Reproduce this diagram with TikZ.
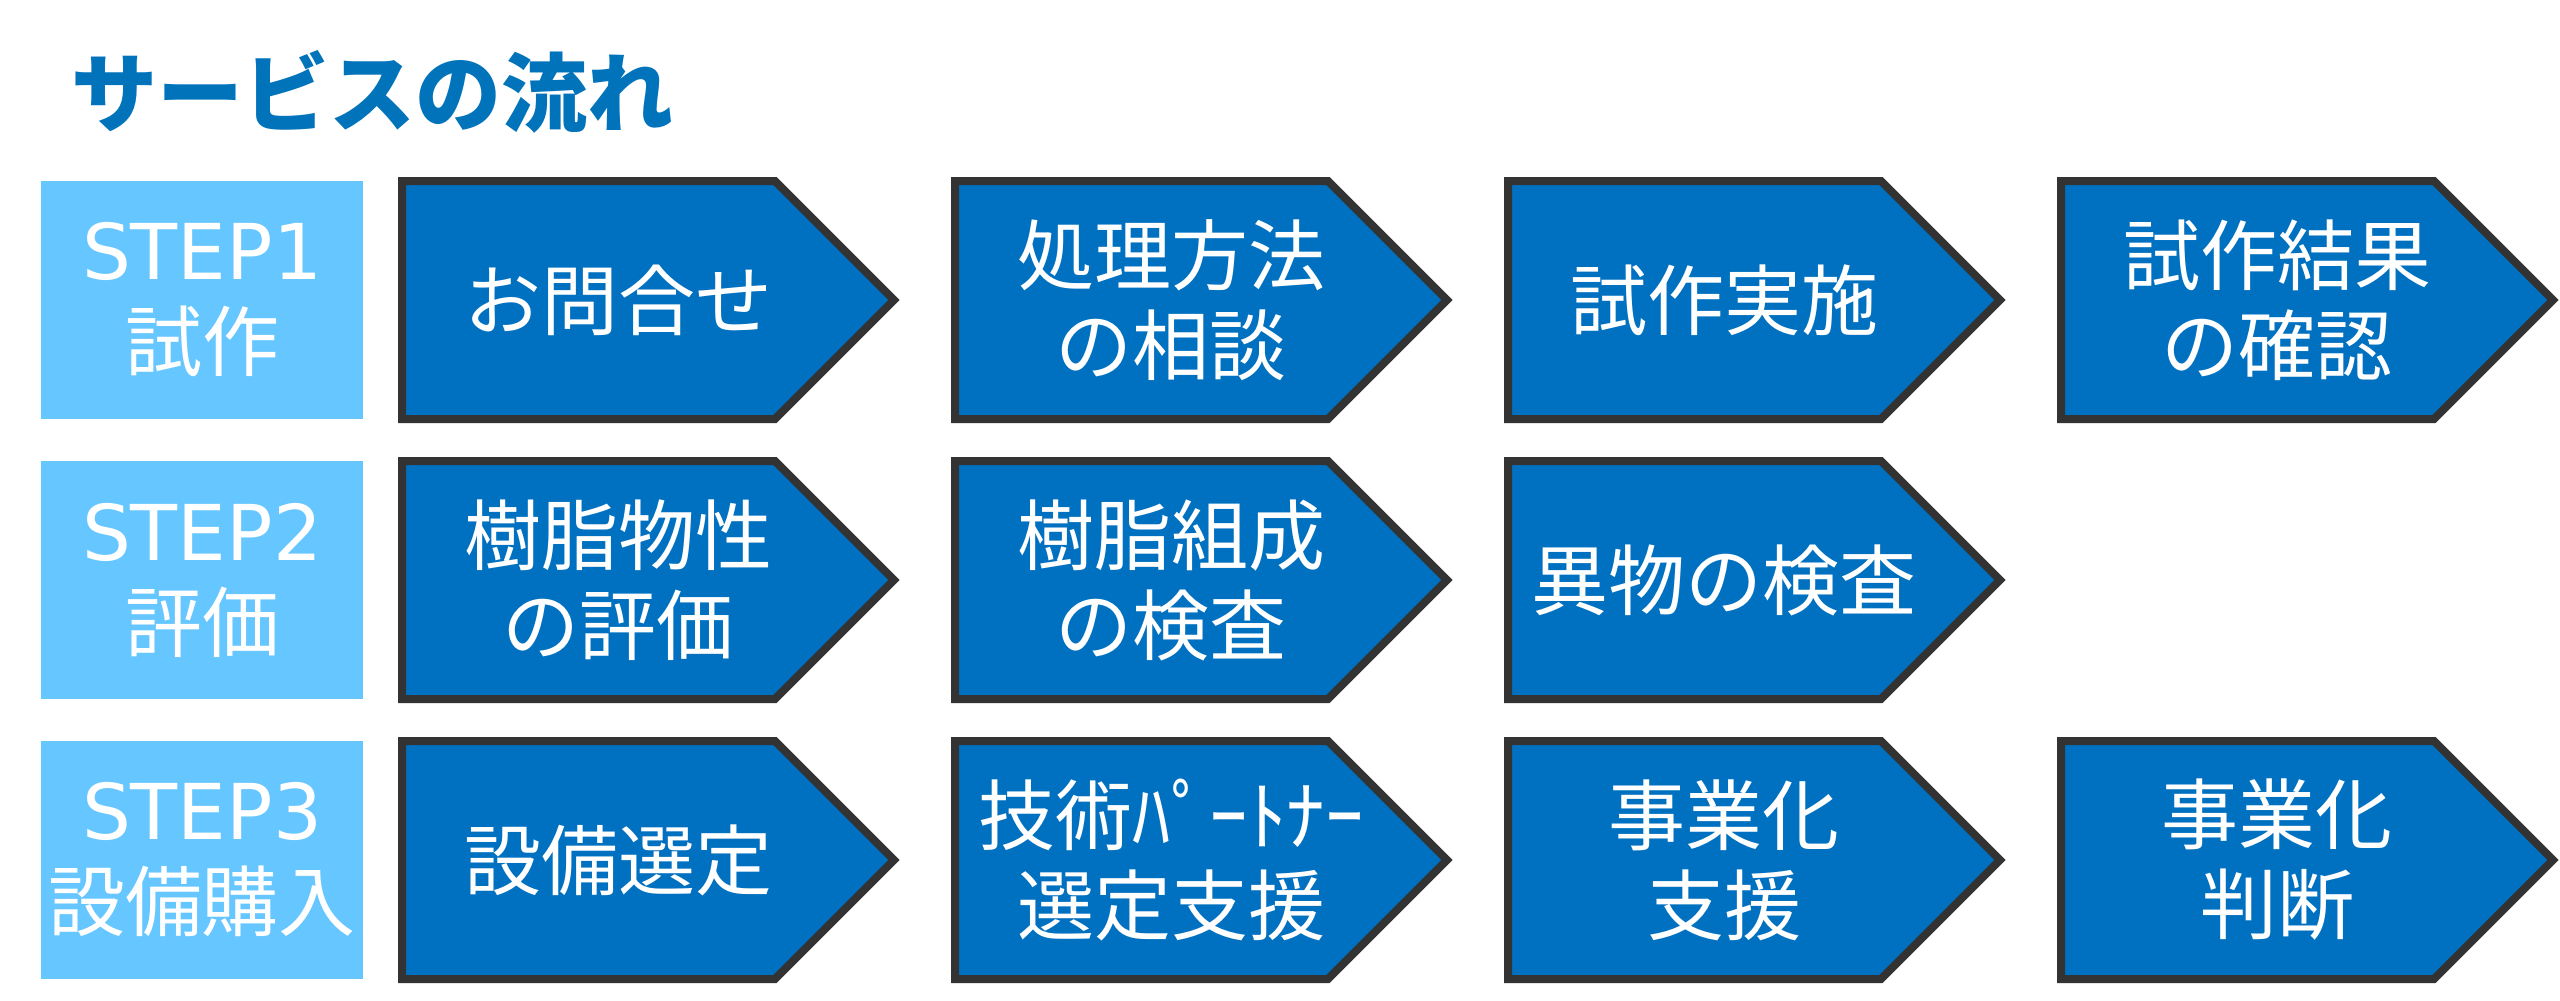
\documentclass[tikz,border=0pt]{standalone}
\usepackage{fontspec}
\newfontfamily\jpfont{Noto Sans CJK JP}
\newfontfamily\latfont{DejaVu Sans}
\usepackage{tikz}
\usetikzlibrary{calc}

\definecolor{flowblue}{HTML}{0070C0}
\definecolor{edgegray}{HTML}{333333}
\definecolor{stepblue}{HTML}{66C6FF}
\definecolor{titleblue}{HTML}{0073BB}

\begin{document}
\begin{tikzpicture}
    [
        x=1pt, y=-1pt,
        stepbox/.style={fill=stepblue, text=white, minimum width=322pt, minimum height=238pt,
            inner sep=0pt, align=center, font=\latfont\fontsize{77}{91}\selectfont},
        homeplate/.style={fill=flowblue, draw=edgegray, line width=8pt, line join=miter},
        flowtext/.style={text=white, align=center, inner sep=0pt, font=\jpfont\fontsize{77}{90}\selectfont},
        headline/.style={text=titleblue, anchor=west, inner sep=0pt, font=\jpfont\bfseries\fontsize{86}{100}\selectfont},
    ]
    \fill[white] (0,0) rectangle (2560,1001);
    \useasboundingbox (0,0) rectangle (2560,1001);

    \node[headline] (title) at (71,92) {サービスの流れ};

    % steps
    \node[stepbox] (step1) at (202,300) {STEP1\\\jpfont 試作};
    \node[stepbox] (step2) at (202,580) {STEP2\\\jpfont 評価};
    \node[stepbox] (step3) at (202,860) {STEP3\\\jpfont 設備購入};

    % flow
    \foreach \col/\row/\txt in {1/1/お問合せ, 2/1/{処理方法\\の相談}, 3/1/試作実施, 4/1/{試作結果\\の確認},
                                1/2/{樹脂物性\\の評価}, 2/2/{樹脂組成\\の検査}, 3/2/異物の検査,
                                1/3/設備選定, 2/3/{技術ﾊﾟｰﾄﾅｰ\\選定支援}, 3/3/{事業化\\支援}, 4/3/{事業化\\判断}}
    {
        \pgfmathsetmacro{\bx}{402+553*(\col-1)}
        \pgfmathsetmacro{\by}{181+280*(\row-1)}
        \draw[homeplate] (\bx,\by) -- ++(373,0) -- ++(119,119) -- ++(-119,119) -- ++(-373,0) -- cycle;
        \node[flowtext] (flow\row\col) at (\bx+216,\by+119) {\txt};
    }
\end{tikzpicture}
\end{document}
